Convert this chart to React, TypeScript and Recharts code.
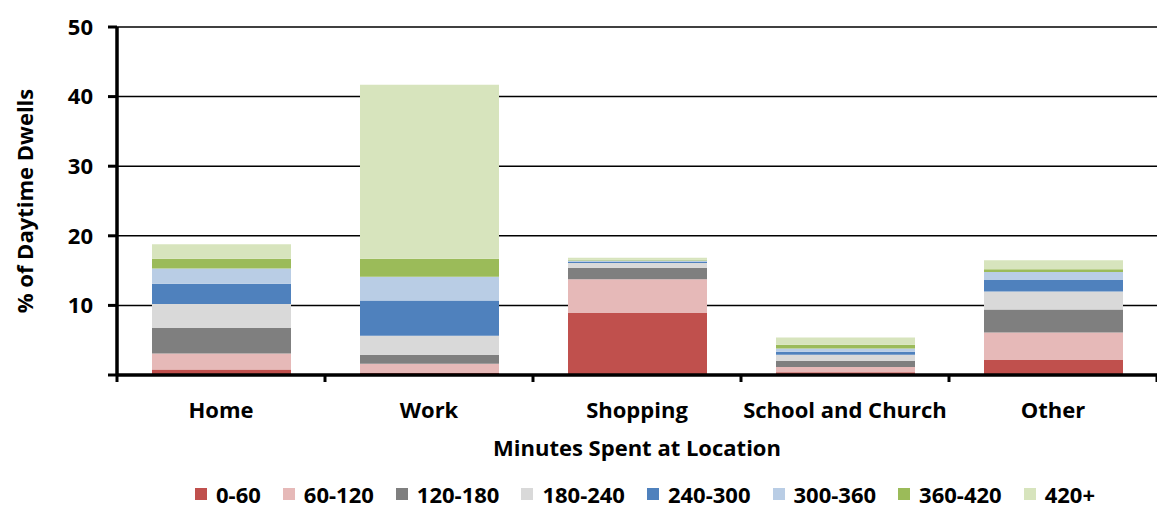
import { Bar, BarChart, CartesianGrid, Legend, XAxis, YAxis } from "recharts"

const locations = ["Home", "Work", "Shopping", "School and Church", "Other"]

const bands = ["0-60", "60-120", "120-180", "180-240", "240-300", "300-360", "360-420", "420+"]

const min0to60 = [0.8, 0.3, 8.9, 0.4, 2.15]
const min60to120 = [2.3, 1.3, 4.85, 0.75, 3.95]
const min120to180 = [3.65, 1.3, 1.65, 0.9, 3.3]
const min180to240 = [3.45, 2.75, 0.7, 0.85, 2.6]
const min240to300 = [2.9, 5.05, 0.15, 0.45, 1.65]
const min300to360 = [2.2, 3.4, 0.2, 0.45, 1.15]
const min360to420 = [1.4, 2.6, 0.1, 0.55, 0.4]
const min420plus = [2.1, 25.0, 0.3, 1.05, 1.3]

const yTicks = [0, 10, 20, 30, 40, 50]

const seriesValues = [
  min0to60,
  min60to120,
  min120to180,
  min180to240,
  min240to300,
  min300to360,
  min360to420,
  min420plus,
]

const colors = ["#C0504D", "#E6B9B8", "#7F7F7F", "#D9D9D9", "#4F81BD", "#B9CDE5", "#9BBB59", "#D7E4BD"]

const data = locations.map((name, i) => {
  const row: Record<string, string | number> = { name }
  bands.forEach((b, j) => {
    row[b] = seriesValues[j][i]
  })
  return row
})

const FONT = "'Open Sans', Lato, sans-serif"

function CategoryTick(props: any) {
  const { x, y, payload, index, visibleTicksCount } = props
  const half = payload?.offset ?? 104
  const last = index === (visibleTicksCount ?? locations.length) - 1
  return (
    <g>
      <line x1={x - half} x2={x - half} y1={y} y2={y + 7} stroke="#000" strokeWidth={3} />
      {last && <line x1={x + half} x2={x + half} y1={y} y2={y + 7} stroke="#000" strokeWidth={3} />}
      <text
        x={x}
        y={y + 34}
        textAnchor="middle"
        dominantBaseline="central"
        fontFamily={FONT}
        fontWeight={700}
        fontSize={22}
        fill="#000"
      >
        {payload.value}
      </text>
    </g>
  )
}

function LegendRow() {
  return (
    <div
      style={{
        display: "flex",
        justifyContent: "center",
        alignItems: "center",
        paddingLeft: 133,
        gap: 22,
        fontFamily: FONT,
        fontWeight: 700,
        fontSize: 22,
        color: "#000",
        lineHeight: "30px",
        height: 30,
      }}
    >
      {bands.map((b, i) => (
        <div key={b} style={{ display: "flex", alignItems: "center" }}>
          <span style={{ width: 12, height: 12, background: colors[i], marginRight: 9, display: "inline-block" }} />
          <span>{b}</span>
        </div>
      ))}
    </div>
  )
}

export default function App() {
  return (
    <div style={{ position: "absolute", left: 0, top: 0, background: "#fff" }}>
      <BarChart
        width={1157}
        height={509}
        data={data}
        margin={{ top: 27, right: 0, bottom: 0, left: 0 }}
        barSize={139}
      >
        <CartesianGrid vertical={false} stroke="#000" strokeWidth={1.5} horizontalValues={[10, 20, 30, 40, 50]} />
        <XAxis
          dataKey="name"
          height={104}
          tickLine={false}
          tickSize={0}
          tickMargin={0}
          axisLine={{ stroke: "#000", strokeWidth: 3.5 }}
          tick={<CategoryTick />}
          interval={0}
          label={{
            content: ({ viewBox }: any) => (
              <text
                x={viewBox.x + viewBox.width / 2}
                y={viewBox.y + 72}
                textAnchor="middle"
                dominantBaseline="central"
                fontFamily={FONT}
                fontWeight={700}
                fontSize={22}
                fill="#000"
              >
                Minutes Spent at Location
              </text>
            ),
          }}
        />
        <YAxis
          width={117}
          domain={[0, 50]}
          ticks={yTicks}
          interval={0}
          tickSize={9}
          tickMargin={15}
          tickLine={{ stroke: "#000", strokeWidth: 3 }}
          axisLine={{ stroke: "#000", strokeWidth: 3.5 }}
          tickFormatter={(v: number) => (v === 0 ? "" : String(v))}
          tick={{ fill: "#000", fontFamily: FONT, fontWeight: 700, fontSize: 22 }}
          label={{
            content: ({ viewBox }: any) => {
              const cx = 24
              const cy = viewBox.y + viewBox.height / 2
              return (
                <text
                  x={cx}
                  y={cy}
                  transform={`rotate(-90 ${cx} ${cy})`}
                  textAnchor="middle"
                  dominantBaseline="central"
                  fontFamily={FONT}
                  fontWeight={700}
                  fontSize={22}
                  fill="#000"
                >
                  % of Daytime Dwells
                </text>
              )
            },
          }}
        />
        <Legend verticalAlign="bottom" height={30} content={() => <LegendRow />} />
        {bands.map((b, i) => (
          <Bar key={b} dataKey={b} stackId="dwell" fill={colors[i]} isAnimationActive={false} />
        ))}
      </BarChart>
    </div>
  )
}
